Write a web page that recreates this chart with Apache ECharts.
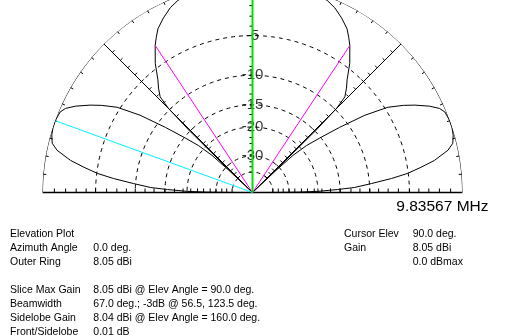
<!DOCTYPE html>
<html>
<head>
<meta charset="utf-8">
<script src="https://cdn.jsdelivr.net/npm/echarts@6/dist/echarts.min.js"></script>
<style>
html,body{margin:0;padding:0;background:#fff;}
#chart{width:505px;height:336px;}
</style>
</head>
<body>
<div id="chart"></div>
<script>
// ---- data (elevation pattern, dB relative to max = 8.05 dBi) ----
const elevAngles = [
  0, 0.2, 0.5, 1, 2, 2.8, 4.3, 5.75, 7, 8.5, 10, 12.2, 13.8, 16, 18, 20, 22.7, 24.2, 26, 28.3,
  30, 32.2, 34.5, 36.8, 39, 41, 42.5, 43.2, 43.6, 44, 44.4, 45, 46, 48, 50, 53, 56.5, 58.2, 60,
  63, 66, 68.7, 72, 76, 80, 85, 90,
  95, 100, 104, 108, 111.3, 114, 117, 120, 121.8, 123.5, 127, 130, 132, 134, 135, 135.6, 136,
  136.4, 136.8, 137.5, 139, 141, 143.2, 145.5, 147.8, 150, 151.7, 154, 155.8, 157.3, 160, 162,
  164, 166.2, 167.8, 170, 171.5, 173, 174.25, 175.7, 177.2, 178, 179, 179.5, 179.8, 180
];
const gainDbMax = [
  -99, -35, -26, -20, -15.5, -12.4, -9.7, -7.0, -5.1, -3.6, -2.2, -0.84, -0.31, -0.1, -0.02, -0.01, -0.12, -0.41, -1.1, -2.24,
  -3.2, -4.67, -7.4, -11.3, -15.2, -18.5, -23, -32, -99, -30, -15, -9.8, -7.85, -6.9, -6.1, -4.5, -3.0, -2.4, -1.8,
  -1.18, -0.65, -0.33, -0.15, -0.07, -0.03, -0.01, 0,
  -0.01, -0.03, -0.07, -0.15, -0.33, -0.65, -1.18, -1.8, -2.4, -3.0, -4.5, -6.1, -6.9, -7.85, -9.8, -15, -30,
  -99, -32, -23, -18.5, -15.2, -11.3, -7.4, -4.67, -3.2, -2.24, -1.1, -0.41, -0.12, -0.01, -0.02,
  -0.1, -0.31, -0.84, -2.2, -3.6, -5.1, -7.0, -9.7, -12.4, -15.5, -20, -26, -35, -99
];
const ringDb = [-5, -10, -15, -20, -30, -40];
const ringLabels = ['-5', '-10', '-15', '-20', '-30', ''];
const tickDb = [-1, -2, -3, -4, -5, -6.25, -7.5, -8.75, -10, -11.5, -13, -15, -17, -19, -21, -23, -25, -27.5, -30, -33, -36, -40];
const radialAngles = [0, 45, 90, 135, 180];
const cursorElev = 90;
const beamEdges = [56.5, 123.5];
const beamEdgeDb = -3;
const sidelobeAngle = 160;
const sidelobeDb = -0.01;

// ARRL log scale: each 2 dB down = 0.89 of radius
const arrl = db => Math.pow(0.89, -db / 2);

const FONT = '"Liberation Sans", Arial, Helvetica, sans-serif';
const series = [];
const base = {type: 'line', coordinateSystem: 'polar', showSymbol: false, symbol: 'none',
  silent: true, animation: false, smooth: false};

// dashed rings
ringDb.forEach(db => {
  const d = [];
  for (let a = 0; a <= 180; a += 1) d.push([arrl(db), a]);
  series.push(Object.assign({}, base, {data: d, z: 1,
    lineStyle: {color: '#000', width: 1, type: [4, 4]}}));
});
// outer ring
(function () {
  const d = [];
  for (let a = 0; a <= 180; a += 1) d.push([1, a]);
  series.push(Object.assign({}, base, {data: d, z: 2, lineStyle: {color: '#000', width: 1}}));
})();
// radials
radialAngles.forEach(a => {
  series.push(Object.assign({}, base, {data: [[0, a], [1, a]], z: 2,
    lineStyle: {color: '#000', width: a === 0 || a === 180 ? 1.5 : 1}}));
});
// ticks on radials
const radialTickData = [];
radialAngles.forEach(a => tickDb.forEach(db => radialTickData.push([arrl(db), a])));
series.push({type: 'custom', coordinateSystem: 'polar', silent: true, animation: false, z: 3,
  data: radialTickData,
  renderItem: function (params, api) {
    const p = api.coord([api.value(0), api.value(1)]);
    const c = api.coord([0, 0]);
    const dx = p[0] - c[0], dy = p[1] - c[1];
    const len = Math.hypot(dx, dy) || 1;
    let nx = dy / len, ny = -dx / len;
    if (ny > 0) { nx = -nx; ny = -ny; }
    const L = (api.value(1) === 0 || api.value(1) === 180) ? 4 : 3;
    return {type: 'line', shape: {x1: p[0], y1: p[1], x2: p[0] + nx * L, y2: p[1] + ny * L},
      style: {stroke: '#000', lineWidth: 1}};
  }});
// ticks on outer ring every 5 deg
const ringTickData = [];
for (let a = 5; a < 180; a += 5) ringTickData.push([1, a]);
series.push({type: 'custom', coordinateSystem: 'polar', silent: true, animation: false, z: 3,
  data: ringTickData,
  renderItem: function (params, api) {
    const p = api.coord([api.value(0), api.value(1)]);
    const c = api.coord([0, 0]);
    const dx = p[0] - c[0], dy = p[1] - c[1];
    const len = Math.hypot(dx, dy) || 1;
    const L = 3;
    return {type: 'line', shape: {x1: p[0], y1: p[1], x2: p[0] - dx / len * L, y2: p[1] - dy / len * L},
      style: {stroke: '#000', lineWidth: 1}};
  }});
// pattern
series.push(Object.assign({}, base, {z: 5,
  data: elevAngles.map((a, i) => [arrl(gainDbMax[i]), a]),
  lineStyle: {color: '#000', width: 1}}));
// beamwidth (-3 dB) lines
beamEdges.forEach(a => {
  series.push(Object.assign({}, base, {z: 6, data: [[0, a], [arrl(beamEdgeDb), a]],
    lineStyle: {color: '#ff00ff', width: 1}}));
});
// sidelobe line
series.push(Object.assign({}, base, {z: 6, data: [[0, sidelobeAngle], [arrl(sidelobeDb), sidelobeAngle]],
  lineStyle: {color: '#00f0ff', width: 1}}));
// ring labels
series.push({type: 'scatter', coordinateSystem: 'polar', silent: true, animation: false, z: 7,
  symbolSize: 1, itemStyle: {color: 'rgba(0,0,0,0)'},
  data: ringDb.map(db => [arrl(db), 90]),
  label: {show: true, position: 'inside', formatter: p => ringLabels[p.dataIndex],
    fontSize: 15, color: '#000', fontFamily: FONT}});
// cursor line
series.push(Object.assign({}, base, {z: 8, data: [[0, cursorElev], [1, cursorElev]],
  lineStyle: {color: '#00e000', width: 2}}));

// ---- text block ----
const leftRows = [
  ['Elevation Plot', '', 233.7],
  ['Azimuth Angle', '0.0 deg.', 247.8],
  ['Outer Ring', '8.05 dBi', 262],
  ['Slice Max Gain', '8.05 dBi @ Elev Angle = 90.0 deg.', 289.7],
  ['Beamwidth', '67.0 deg.; -3dB @ 56.5, 123.5 deg.', 303.7],
  ['Sidelobe Gain', '8.04 dBi @ Elev Angle = 160.0 deg.', 317.7],
  ['Front/Sidelobe', '0.01 dB', 331.7]
];
const rightRows = [
  ['Cursor Elev', '90.0 deg.', 233.7],
  ['Gain', '8.05 dBi', 247.8],
  ['', '0.0 dBmax', 262]
];
const graphics = [];
function txt(x, y, s, size, align) {
  graphics.push({type: 'text', x: x, y: y, silent: true,
    style: {text: s, fontSize: size, fontFamily: FONT, fill: '#000',
      align: align || 'left', textAlign: align || 'left',
      verticalAlign: 'middle', textVerticalAlign: 'middle'}});
}
leftRows.forEach(r => { txt(10, r[2], r[0], 10.5); if (r[1]) txt(93.3, r[2], r[1], 10.5); });
rightRows.forEach(r => { if (r[0]) txt(344, r[2], r[0], 10.5); txt(412.7, r[2], r[1], 10.5); });
txt(488.5, 207, '9.83567 MHz', 15.5, 'right');

const chart = echarts.init(document.getElementById('chart'), null, {renderer: 'canvas'});
chart.setOption({
  backgroundColor: '#fff',
  animation: false,
  polar: {center: [252.5, 192.5], radius: 210},
  angleAxis: {type: 'value', min: 0, max: 360, startAngle: 0, clockwise: false, show: false},
  radiusAxis: {type: 'value', min: 0, max: 1, show: false},
  series: series,
  graphic: graphics
});
</script>
</body>
</html>
